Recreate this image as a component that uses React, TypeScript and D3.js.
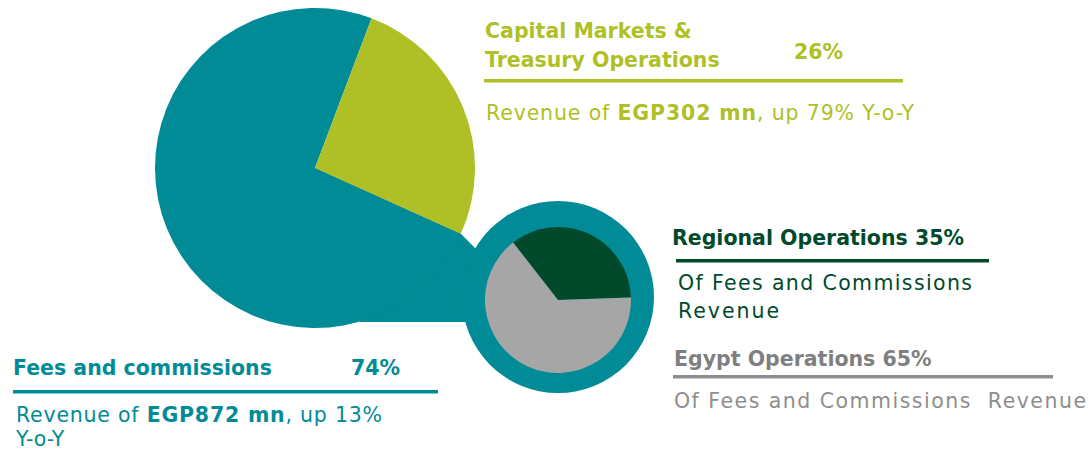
import React from "react";
import * as d3 from "d3";

// ---- data ----
const mainLabels = ["Fees and commissions", "Capital Markets & Treasury Operations"];
const mainValues = [74, 26];
const mainColors = ["#018B96", "#AFC027"];
const subLabels = ["Regional Operations", "Egypt Operations"];
const subValues = [35, 65];
const subColors = ["#004A2B", "#A6A6A6"];
const revenueMn = [872, 302];
const revenueGrowth = [13, 79];

const W = 1089;
const H = 454;
const FONT = "'DejaVu Sans', sans-serif";
const BS = 20.5; // bold size
const RS = 20.5; // regular size

export default function App() {
  const deg = Math.PI / 180;
  // main pie
  const mc = { x: 315, y: 168 };
  const mr = 160;
  const mainPie = d3
    .pie<number>()
    .sort(null)
    .startAngle(114.3 * deg)
    .endAngle(114.3 * deg + 2 * Math.PI)(mainValues);
  const mainArc = d3.arc<d3.PieArcDatum<number>>().innerRadius(0).outerRadius(mr);

  // sub pie
  const sc = { x: 558, y: 298 };
  const sr = 73;
  const ringR = 96;
  const subPie = d3
    .pie<number>()
    .sort(null)
    .startAngle(-38 * deg)
    .endAngle(-38 * deg + 2 * Math.PI)(subValues);
  const subArc = d3.arc<d3.PieArcDatum<number>>().innerRadius(0).outerRadius(sr);

  // connector: from main pie to ring
  const limeEnd = mainPie[0].startAngle;
  const p1 = [mc.x + mr * Math.sin(limeEnd), mc.y - mr * Math.cos(limeEnd)];
  const p2 = [p1[0] + 40, p1[1] + 40];
  const bottomY = sc.y + 24;
  const p3 = [sc.x - 60, bottomY];
  const p4 = [mc.x + 45, bottomY];
  const connector = d3.line()([[mc.x, mc.y], p1, p2, [sc.x, sc.y], p3, p4] as [number, number][]) + "Z";

  const teal = mainColors[0];
  const lime = mainColors[1];
  const dark = subColors[0];
  const grayHead = "#7F7F7F";
  const grayText = "#8E8E8E";

  return (
    <svg
      width={W}
      height={H}
      style={{ position: "absolute", left: 0, top: 0, background: "#fff" }}
      fontFamily={FONT}
    >
      <path d={connector} fill={teal} />
      <g transform={`translate(${mc.x},${mc.y})`}>
        {mainPie.map((d, i) => (
          <path key={i} d={mainArc(d) || ""} fill={mainColors[i]} />
        ))}
      </g>
      <circle cx={sc.x} cy={sc.y - 1} r={ringR} fill={teal} />
      <g transform={`translate(${sc.x},${sc.y + 2})`}>
        {subPie.map((d, i) => (
          <path key={i} d={subArc(d) || ""} fill={subColors[i]} />
        ))}
      </g>

      {/* Capital markets block */}
      <g fill={lime}>
        <text x={485} y={38} fontSize={BS} fontWeight="bold">Capital Markets &amp;</text>
        <text x={485} y={67} fontSize={BS} fontWeight="bold">Treasury Operations</text>
        <text x={843} y={59} fontSize={BS} fontWeight="bold" textAnchor="end">{mainValues[1]}%</text>
        <rect x={484} y={79} width={419} height={3.5} />
        <text x={486} y={120} fontSize={RS} textLength={428} lengthAdjust="spacing">
          Revenue of <tspan fontWeight="bold">EGP{revenueMn[1]} mn</tspan>, up {revenueGrowth[1]}% Y-o-Y
        </text>
      </g>

      {/* Regional block */}
      <g fill={dark}>
        <text x={672} y={245} fontSize={BS} fontWeight="bold">{subLabels[0]} {subValues[0]}%</text>
        <rect x={676} y={259} width={313} height={3.5} />
        <text x={678} y={290} fontSize={RS} textLength={294} lengthAdjust="spacing">Of Fees and Commissions</text>
        <text x={678} y={318} fontSize={RS} textLength={101} lengthAdjust="spacing">Revenue</text>
      </g>

      {/* Egypt block */}
      <text x={674} y={366} fontSize={BS} fontWeight="bold" fill={grayHead}>{subLabels[1]} {subValues[1]}%</text>
      <rect x={673} y={375} width={380} height={3.5} fill={grayText} />
      <text x={674} y={408} fontSize={RS} fill={grayText} textLength={412} lengthAdjust="spacing">Of Fees and Commissions&#160; Revenue</text>

      {/* Fees block */}
      <g fill={teal}>
        <text x={13} y={375} fontSize={BS} fontWeight="bold">{mainLabels[0]}</text>
        <text x={400} y={375} fontSize={BS} fontWeight="bold" textAnchor="end">{mainValues[0]}%</text>
        <rect x={13} y={390} width={425} height={3.5} />
        <text x={16} y={422} fontSize={RS} textLength={366} lengthAdjust="spacing">
          Revenue of <tspan fontWeight="bold">EGP{revenueMn[0]} mn</tspan>, up {revenueGrowth[0]}%
        </text>
        <text x={16} y={446} fontSize={RS}>Y-o-Y</text>
      </g>
    </svg>
  );
}
